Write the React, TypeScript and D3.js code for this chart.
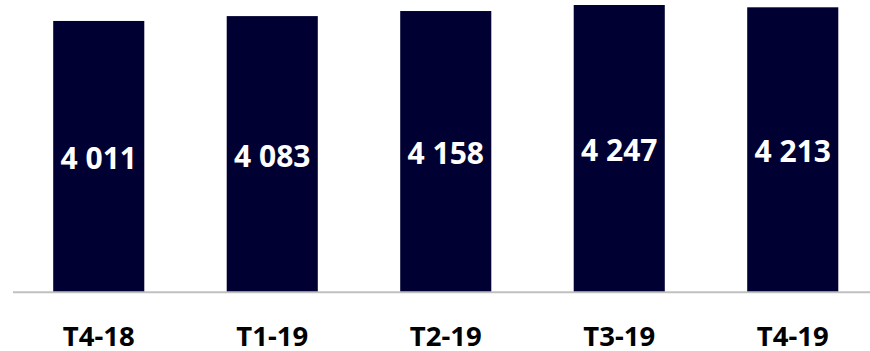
import React from "react";
import * as d3 from "d3";

const categories = ["T4-18", "T1-19", "T2-19", "T3-19", "T4-19"];
const values = [4011, 4083, 4158, 4247, 4213];
const valueLabels = ["4 011", "4 083", "4 158", "4 247", "4 213"];

const W = 870;
const H = 351;
const baseY = 292.3;
const yMax = 4321;

export default function App() {
  const x = d3
    .scaleBand<string>()
    .domain(categories)
    .range([12, 879.5])
    .paddingInner(0.475)
    .paddingOuter(0.2375);
  const y = d3.scaleLinear().domain([0, yMax]).range([baseY, 0]);
  const font = "'Noto Sans', 'Open Sans', sans-serif";
  return (
    <svg
      width={W}
      height={H}
      style={{ position: "absolute", left: 0, top: 0, background: "#fff" }}
    >
      {categories.map((c, i) => {
        const bx = x(c)!;
        const top = y(values[i]);
        const mid = (top + baseY) / 2;
        return (
          <g key={c}>
            <rect
              x={bx}
              y={top}
              width={x.bandwidth()}
              height={baseY - top}
              fill="#010033"
            />
            <text
              x={bx + x.bandwidth() / 2}
              y={mid + 12.5}
              textAnchor="middle"
              fill="#fff"
              fontFamily={font}
              fontWeight={700}
              fontSize={30}
            >
              {valueLabels[i]}
            </text>
            <text
              x={bx + x.bandwidth() / 2}
              y={345.5}
              textAnchor="middle"
              fill="#000"
              fontFamily={font}
              fontWeight={700}
              fontSize={27.5}
            >
              {c}
            </text>
          </g>
        );
      })}
      <line x1={13} x2={W} y1={baseY} y2={baseY} stroke="#c0c0c0" strokeWidth={2} />
    </svg>
  );
}
